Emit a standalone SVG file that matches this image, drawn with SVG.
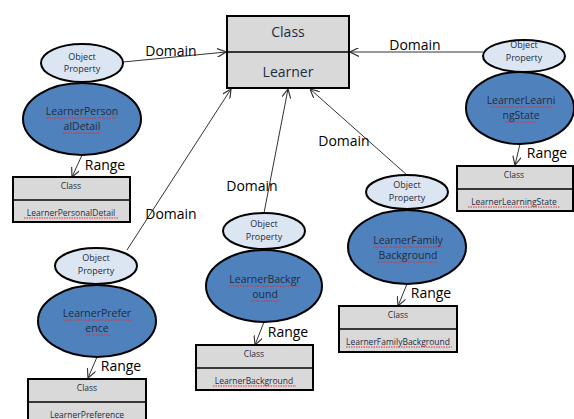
<svg xmlns="http://www.w3.org/2000/svg" width="574" height="419" viewBox="0 0 574 419">
<style>
text{font-family:"Open Sans","Liberation Sans",sans-serif;fill:#1f2b3e;text-anchor:middle}
.op{fill:#dce6f2;stroke:#000;stroke-width:2}
.pr{fill:#4f81bd;stroke:#000;stroke-width:2}
.bx{fill:#d9d9d9;stroke:#000;stroke-width:2}
.dv{stroke:#000;stroke-width:1.3}
.ot{font-size:9px}
.pt{font-size:10.5px}
.ct{font-size:8.5px}
.lb{font-size:14px;fill:#000}
.cn{stroke:#333;stroke-width:1;fill:none;marker-end:url(#ah)}
.sp{stroke:#e03030;stroke-width:1;stroke-dasharray:1.5 1;fill:none}
</style>
<defs>
<marker id="ah" viewBox="0 0 10 10" refX="10" refY="5" markerWidth="9" markerHeight="9" orient="auto" markerUnits="userSpaceOnUse">
<path d="M0,0 L10,5 L0,10" fill="none" stroke="#333" stroke-width="1.3"/>
</marker>
</defs>
<rect width="574" height="419" fill="#fff"/>
<g id="connectors">
<line class="cn" x1="123" y1="62" x2="226" y2="52"/>
<line class="cn" x1="483" y1="52" x2="350" y2="52"/>
<line class="cn" x1="127" y1="250" x2="231" y2="89"/>
<line class="cn" x1="264" y1="213" x2="288" y2="89"/>
<line class="cn" x1="407" y1="175" x2="310" y2="89"/>
<line class="cn" x1="82" y1="155" x2="72" y2="177"/>
<line class="cn" x1="520" y1="144" x2="515" y2="165"/>
<line class="cn" x1="407" y1="284" x2="398" y2="306"/>
<line class="cn" x1="264" y1="322" x2="255" y2="345"/>
<line class="cn" x1="97" y1="357" x2="88" y2="378"/>
<text class="lb" x="171" y="56">Domain</text>
<text class="lb" x="415" y="50">Domain</text>
<text class="lb" x="171" y="219">Domain</text>
<text class="lb" x="252" y="191">Domain</text>
<text class="lb" x="344" y="146">Domain</text>
<text class="lb" x="105" y="170">Range</text>
<text class="lb" x="547" y="158">Range</text>
<text class="lb" x="431" y="298">Range</text>
<text class="lb" x="288" y="337">Range</text>
<text class="lb" x="121" y="371">Range</text>
</g>
<g id="learner">
<rect class="bx" x="227" y="16" width="122" height="72"/>
<line class="dv" x1="227" y1="52" x2="349" y2="52"/>
<text x="288" y="37" style="font-size:14px">Class</text>
<text x="288" y="77" style="font-size:14px">Learner</text>
</g>
<g id="personal">
<ellipse class="op" cx="82" cy="63" rx="41" ry="19"/>
<text class="ot" x="82" y="60">Object</text>
<text class="ot" x="82" y="72">Property</text>
<ellipse class="pr" cx="82" cy="119" rx="59" ry="36"/>
<text class="pt" x="82" y="115">LearnerPerson</text>
<text class="pt" x="82" y="130">alDetail</text>
<path class="sp" d="M47,118 H117 M63,133 H101"/>
<rect class="bx" x="13" y="177" width="117" height="45"/>
<line class="dv" x1="13" y1="200" x2="130" y2="200"/>
<text class="ct" x="71" y="189">Class</text>
<text class="ct" x="71" y="216">LearnerPersonalDetail</text>
<path class="sp" d="M24,218 H119"/>
</g>
<g id="learning">
<ellipse class="op" cx="524" cy="56" rx="41" ry="16"/>
<text class="ot" x="524" y="48">Object</text>
<text class="ot" x="524" y="61">Property</text>
<ellipse class="pr" cx="520" cy="108" rx="54" ry="36"/>
<text class="pt" x="521" y="104">LearnerLearni</text>
<text class="pt" x="521" y="119">ngState</text>
<path class="sp" d="M490,107 H553 M505,122 H537"/>
<rect class="bx" x="457" y="166" width="116" height="45"/>
<line class="dv" x1="457" y1="189" x2="573" y2="189"/>
<text class="ct" x="514" y="178">Class</text>
<text class="ct" x="514" y="205">LearnerLearningState</text>
<path class="sp" d="M468,207 H560"/>
</g>
<g id="family">
<ellipse class="op" cx="407" cy="192" rx="41" ry="17"/>
<text class="ot" x="407" y="188">Object</text>
<text class="ot" x="407" y="201">Property</text>
<ellipse class="pr" cx="407" cy="247" rx="59" ry="37"/>
<text class="pt" x="408" y="244">LearnerFamily</text>
<text class="pt" x="408" y="259">Background</text>
<path class="sp" d="M373,247 H444 M378,262 H437"/>
<rect class="bx" x="339" y="306" width="118" height="46"/>
<line class="dv" x1="339" y1="329" x2="457" y2="329"/>
<text class="ct" x="398" y="318">Class</text>
<text class="ct" x="398" y="345">LearnerFamilyBackground</text>
<path class="sp" d="M346,347 H452"/>
</g>
<g id="background">
<ellipse class="op" cx="264" cy="231" rx="41" ry="18"/>
<text class="ot" x="264" y="227">Object</text>
<text class="ot" x="264" y="240">Property</text>
<ellipse class="pr" cx="264" cy="286" rx="58" ry="36"/>
<text class="pt" x="265" y="283">LearnerBackgr</text>
<text class="pt" x="265" y="298">ound</text>
<path class="sp" d="M230,286 H300 M251,301 H279"/>
<rect class="bx" x="196" y="345" width="117" height="45"/>
<line class="dv" x1="196" y1="368" x2="313" y2="368"/>
<text class="ct" x="254" y="357">Class</text>
<text class="ct" x="254" y="384">LearnerBackground</text>
<path class="sp" d="M213,386 H296"/>
</g>
<g id="preference">
<ellipse class="op" cx="96" cy="266" rx="41" ry="18"/>
<text class="ot" x="96" y="261">Object</text>
<text class="ot" x="96" y="274">Property</text>
<ellipse class="pr" cx="97" cy="321" rx="59" ry="36"/>
<text class="pt" x="97" y="317">LearnerPrefer</text>
<text class="pt" x="97" y="332">ence</text>
<path class="sp" d="M63,320 H132 M86,335 H110"/>
<rect class="bx" x="28" y="379" width="118" height="46"/>
<line class="dv" x1="28" y1="402" x2="146" y2="402"/>
<text class="ct" x="87" y="391">Class</text>
<text class="ct" x="87" y="418">LearnerPreference</text>
</g>
</svg>
